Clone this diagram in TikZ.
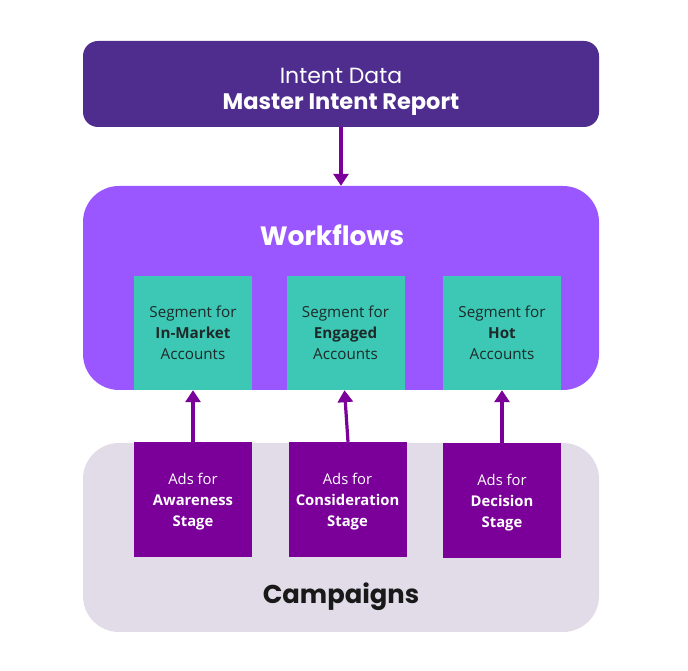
\documentclass[tikz,border=0pt]{standalone}
\usepackage{fontspec}
\setmainfont{Open Sans}
\newfontfamily\pop{Poppins}
\usetikzlibrary{arrows.meta}
\definecolor{topc}{HTML}{4F2D8F}
\definecolor{wfc}{HTML}{9B57FF}
\definecolor{tealc}{HTML}{3CC8B4}
\definecolor{adc}{HTML}{7B0099}
\definecolor{campc}{HTML}{E1DCE7}
\definecolor{arrc}{HTML}{7B0099}
\definecolor{segtxt}{HTML}{1E2A2A}
\tikzset{
  x=1pt,y=1pt,
  segbox/.style={fill=tealc, draw=none, minimum width=118pt, minimum height=114pt, inner sep=0pt},
  adbox/.style={fill=adc, draw=none, minimum width=118pt, minimum height=115pt, inner sep=0pt},
  segtext/.style={text=segtxt, font=\fontsize{15.2}{20.8}\selectfont, align=center},
  adtext/.style={text=white, font=\fontsize{14.8}{21}\selectfont, align=center},
  conn/.style={draw=arrc, line width=3.2pt, -{Triangle[length=12pt,width=15pt]}},
}
\begin{document}
\begin{tikzpicture}
\useasboundingbox (0,0) rectangle (688,671);
% top box
\node[fill=topc, rounded corners=15pt, minimum width=516pt, minimum height=86pt, inner sep=0pt] (top) at (341,587) {};
\node[text=white, font=\pop\fontsize{22}{27}\selectfont] (t1) at (341,595.5) {Intent Data};
\node[text=white, font=\pop\bfseries\fontsize{22.5}{27}\selectfont] (t2) at (341,566.5) {Master Intent Report};
% workflows
\node[fill=wfc, rounded corners=36pt, minimum width=516pt, minimum height=204pt, inner sep=0pt] (wf) at (341,383) {};
\node[text=white, font=\pop\bfseries\fontsize{26.5}{30}\selectfont] (wft) at (332,436) {Workflows};
% campaigns
\node[fill=campc, rounded corners=36pt, minimum width=516pt, minimum height=189pt, inner sep=0pt] (camp) at (341,133.5) {};
\node[text=black!90, font=\pop\bfseries\fontsize{25.8}{30}\selectfont] (campt) at (341,74) {Campaigns};
% segments
\node[segbox] (s1) at (193,338) {};
\node[segbox] (s2) at (345.5,338) {};
\node[segbox] (s3) at (502,338) {};
\node[segtext] at (s1) {Segment for\\\textbf{In-Market}\\Accounts};
\node[segtext] at (s2) {Segment for\\\textbf{Engaged}\\Accounts};
\node[segtext] at (s3) {Segment for\\\textbf{Hot}\\Accounts};
% ads
\node[adbox] (a1) at (193,171.5) {};
\node[adbox] (a2) at (347.5,171.5) {};
\node[adbox] (a3) at (502,170.5) {};
\node[adtext] at ([yshift=-2pt]a1) {Ads for\\\textbf{Awareness}\\\textbf{Stage}};
\node[adtext] at ([yshift=-2pt]a2) {Ads for\\\textbf{Consideration}\\\textbf{Stage}};
\node[adtext] at ([yshift=-2pt]a3) {Ads for\\\textbf{Decision}\\\textbf{Stage}};
% connectors
\draw[conn] (top.south) -- (wf.north);
\draw[conn] (a1.north) -- (s1.south);
\draw[conn] ([xshift=0.5pt]a2.north) -- ([xshift=-1pt]s2.south);
\draw[conn] (a3.north) -- (s3.south);
\end{tikzpicture}
\end{document}
